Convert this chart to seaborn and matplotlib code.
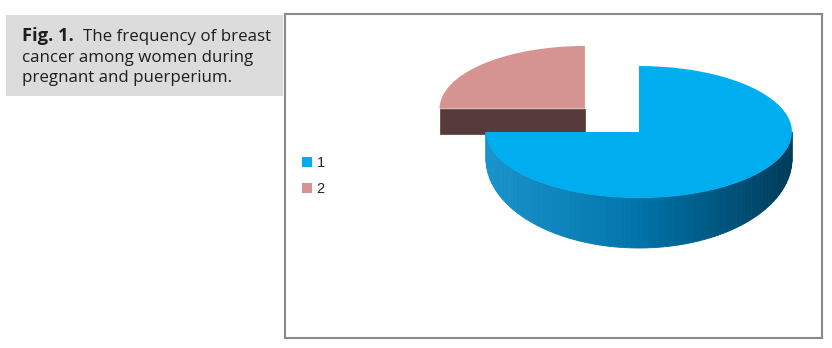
import numpy as np
import matplotlib
matplotlib.use("Agg")
import matplotlib.pyplot as plt
import seaborn as sns
from matplotlib.patches import Rectangle, Polygon
from matplotlib.colors import LinearSegmentedColormap

# ---- data ----
categories = ["1", "2"]
shares = [75, 25]
explode = [0.0, 0.5]
top_colors = ["#00AEEF", "#D59391"]
caption_bold = "Fig. 1."
caption_lines = ["The frequency of breast", "cancer among women during", "pregnant and puerperium."]

sns.set_theme(style="white")
plt.rcParams['font.family'] = ['Open Sans', 'DejaVu Sans']

W, H = 832, 348
fig = plt.figure(figsize=(W / 100, H / 100), dpi=100)
fig.patch.set_facecolor('white')


def fx(x):
    return x / W


def fy(y):
    return 1 - y / H


# caption box
fig.patches.append(Rectangle((fx(6), fy(96)), (283 - 6) / W, (96 - 15) / H,
                             transform=fig.transFigure, facecolor='#DCDCDC',
                             edgecolor='none', zorder=0))
# chart border
fig.patches.append(Rectangle((fx(285), fy(338)), (822 - 285) / W, (338 - 14) / H,
                             transform=fig.transFigure, facecolor='none',
                             edgecolor='#8A8A8A', lw=1.5, zorder=1))

txt_col = '#1E1E1E'
fs = 12.2
fig.text(fx(22), fy(41), caption_bold, fontweight='bold', fontsize=13.2, va='baseline', color=txt_col)
fig.text(fx(83), fy(41), caption_lines[0], fontsize=fs, va='baseline', color=txt_col)
fig.text(fx(22), fy(62), caption_lines[1], fontsize=fs, va='baseline', color=txt_col)
fig.text(fx(22), fy(82), caption_lines[2], fontsize=fs, va='baseline', color=txt_col)

# ---- pie axes: 1 data unit = a px horizontally, b px vertically ----
cx, cy = 639, 132
a, b = 153, 66
xl = (-1.6, 1.2)
yl = (-2.2, 1.8)
left = cx + xl[0] * a
right = cx + xl[1] * a
top = cy - yl[1] * b
bottom = cy - yl[0] * b
ax = fig.add_axes([fx(left), fy(bottom), (right - left) / W, (bottom - top) / H])

wedges, _ = ax.pie(shares, explode=explode, startangle=180, counterclock=True,
                   colors=top_colors, wedgeprops=dict(linewidth=0))
ax.set_aspect('auto')
ax.set_xlim(*xl)
ax.set_ylim(*yl)
ax.axis('off')

h0 = 27 / b   # thickness at the sides (data units)
h1 = 23 / b   # extra thickness toward the front (perspective)
side_cmap = LinearSegmentedColormap.from_list('side', ['#1A93CC', '#0074AA', '#003B5A'])

# pink slice: behind (slightly smaller due to perspective)
pw = wedges[1]
pw.set_radius(0.95)
pcx, pcy = pw.center
pr = pw.r
pw.set_zorder(2)
ph0 = h0 * 0.93
ax.add_patch(Polygon([(pcx - pr, pcy), (pcx, pcy), (pcx, pcy - ph0), (pcx - pr, pcy - ph0)],
                     closed=True, facecolor='#573B3B', edgecolor='#573B3B', lw=0.5, zorder=1))

# blue slice side
bw = wedges[0]
bcx, bcy = bw.center
br = bw.r
t1 = max(bw.theta1, 180)
t2 = min(bw.theta2, 360)
angs = np.linspace(np.radians(t1), np.radians(t2), 90)
for i in range(len(angs) - 1):
    ph = np.linspace(angs[i], angs[i + 1], 4)
    topx = bcx + br * np.cos(ph)
    topy = bcy + br * np.sin(ph)
    boty = topy - (h0 - h1 * np.sin(ph))
    pts = list(zip(topx, topy)) + list(zip(topx[::-1], boty[::-1]))
    tm = (1 + np.cos((angs[i] + angs[i + 1]) / 2)) / 2
    c = side_cmap(tm)
    ax.add_patch(Polygon(pts, closed=True, facecolor=c, edgecolor=c, lw=0.6, zorder=3))
bw.set_zorder(4)

# legend
fig.legend(wedges, categories, loc='upper left', bbox_to_anchor=(fx(302), fy(156)),
           frameon=False, handlelength=0.7, handleheight=0.7, handletextpad=0.3,
           labelspacing=0.85, borderpad=0, borderaxespad=0,
           prop={'family': 'Liberation Sans', 'size': 10.5})

fig.savefig('out.png', dpi=100)
